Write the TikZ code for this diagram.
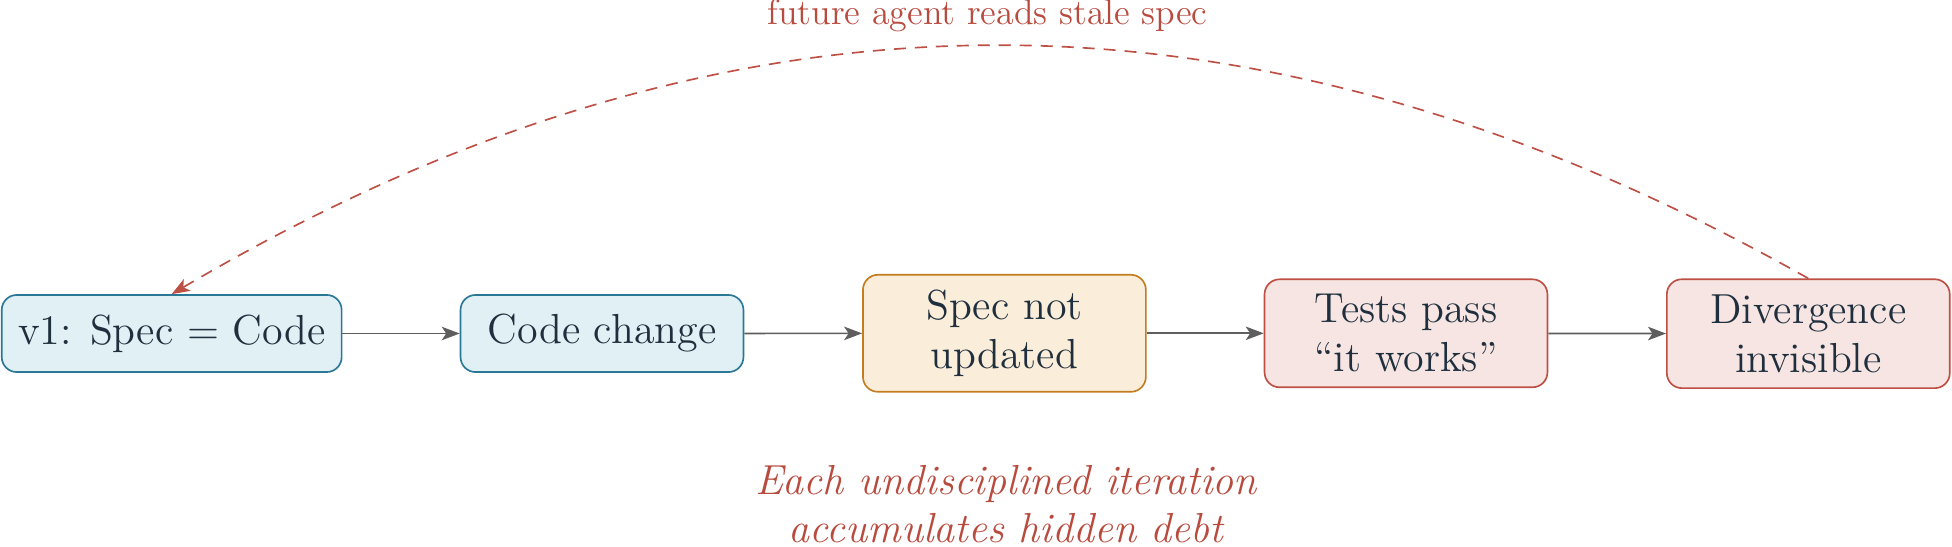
\documentclass[tikz,border=0pt]{standalone}
\usetikzlibrary{arrows.meta}
\definecolor{bluedraw}{HTML}{2A7896}
\definecolor{bluefill}{HTML}{E1F0F4}
\definecolor{orgdraw}{HTML}{C47D1E}
\definecolor{orgfill}{HTML}{FAEDDA}
\definecolor{reddraw}{HTML}{BE4F44}
\definecolor{redfill}{HTML}{F6E5E2}
\definecolor{txt}{HTML}{1F2F3D}
\definecolor{arr}{HTML}{5E5E5E}
\definecolor{redtxt}{HTML}{B94A3E}
\begin{document}
\begin{tikzpicture}[x=0.33333pt,y=-0.33333pt,
  box/.style={draw, line width=0.55pt, rounded corners=5pt, align=center, font=\fontsize{14}{16.4}\selectfont, text=txt, inner sep=0pt, minimum width=94.3pt},
  bluebox/.style={box, draw=bluedraw, fill=bluefill},
  orgbox/.style={box, draw=orgdraw, fill=orgfill},
  redbox/.style={box, draw=reddraw, fill=redfill},
  flow/.style={draw=arr, line width=0.55pt, -{Stealth[length=6pt,width=4.5pt,inset=1.5pt]}},
  back/.style={draw=reddraw, line width=0.55pt, dash pattern=on 4pt off 3pt, -{Stealth[length=6pt,width=4.5pt,inset=1.5pt]}}
]
\useasboundingbox (0,0) rectangle (1952,547);
\node[bluebox, minimum width=113.3pt, minimum height=25.7pt] (v1) at (171.7,333.5) {v1: Spec = Code};
\node[bluebox, minimum height=25.7pt] (code) at (602,333.5) {Code change};
\node[orgbox, minimum height=39pt] (spec) at (1004.4,333.3) {Spec not\\updated};
\node[redbox, minimum height=36pt] (tests) at (1406,333.3) {Tests pass\\``it works''};
\node[redbox, minimum height=36.3pt] (div) at (1808.3,333.7) {Divergence\\invisible};
\draw[flow] (v1) -- (code);
\draw[flow] (code) -- (spec);
\draw[flow] (spec) -- (tests);
\draw[flow] (tests) -- (div);
\draw[back] (div.north) to[bend right=30] (v1.north);
\node[text=redtxt, font=\fontsize{12}{14}\selectfont] (lbl) at (987.5,16) {future agent reads stale spec};
\node[text=redtxt, font=\fontsize{14}{16}\selectfont\itshape, align=center] (note) at (1006,504) {Each undisciplined iteration\\accumulates hidden debt};
\end{tikzpicture}
\end{document}
